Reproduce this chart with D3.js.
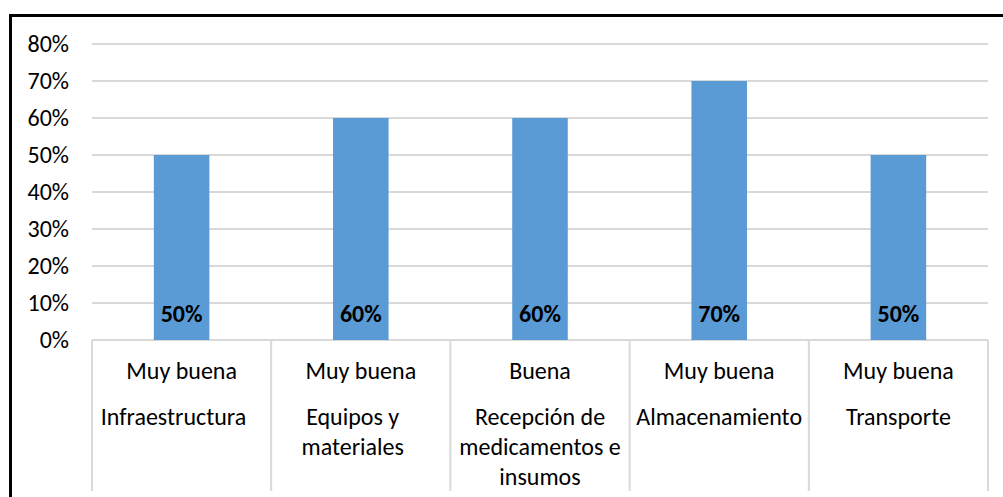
<!DOCTYPE html>
<html><head><meta charset="utf-8">
<script src="https://cdn.jsdelivr.net/npm/d3@7"></script>
<style>body{margin:0;background:#fff}svg{display:block}text{white-space:pre}</style>
</head><body>
<svg id="c" width="1003" height="497"></svg>
<script>
const categories = [["Infraestructura   "],["Equipos y   ","materiales   "],["Recepción de","medicamentos e","insumos"],["Almacenamiento"],["Transporte"]];
const ratings = ["Muy buena","Muy buena","Buena","Muy buena","Muy buena"];
const values = [0.5,0.6,0.6,0.7,0.5];
const yTicks = [0,0.1,0.2,0.3,0.4,0.5,0.6,0.7,0.8];

const svg = d3.select("#c");
const font = "Calibri, Carlito, 'Liberation Sans', Arial, sans-serif";
const fs = 24;
svg.append("rect").attr("x",10.5).attr("y",15.5).attr("width",1010).attr("height",510)
  .attr("fill","none").attr("stroke","#000").attr("stroke-width",3);

const L=92,R=988,T=44,B=340;
const x = d3.scaleBand().domain(d3.range(values.length)).range([L,R]).paddingInner(0).paddingOuter(0);
const y = d3.scaleLinear().domain([0,0.8]).range([B,T]);

svg.append("g").selectAll("line").data(yTicks).join("line")
  .attr("x1",L).attr("x2",R).attr("y1",d=>y(d)).attr("y2",d=>y(d))
  .attr("stroke","#d9d9d9").attr("stroke-width",2);

svg.append("g").selectAll("text").data(yTicks).join("text")
  .attr("x",69).attr("y",d=>y(d)).attr("dy","0.35em").attr("text-anchor","end")
  .attr("font-family",font).attr("font-size",fs).attr("fill","#000")
  .text(d3.format(".0%"));

const bw = x.bandwidth()*0.31;
svg.append("g").selectAll("rect").data(values).join("rect")
  .attr("x",(d,i)=>x(i)+x.bandwidth()/2-bw/2).attr("width",bw)
  .attr("y",d=>y(d)).attr("height",d=>B-y(d)).attr("fill","#5b9bd5");

svg.append("g").selectAll("text").data(values).join("text")
  .attr("x",(d,i)=>x(i)+x.bandwidth()/2).attr("y",314).attr("dy","0.35em")
  .attr("text-anchor","middle").attr("font-family",font).attr("font-weight","bold")
  .attr("font-size",fs).attr("fill","#000").text(d3.format(".0%"));

// category dividers
svg.append("g").selectAll("line").data(d3.range(values.length+1)).join("line")
  .attr("x1",i=>i<values.length?x(i):R).attr("x2",i=>i<values.length?x(i):R)
  .attr("y1",B).attr("y2",491).attr("stroke","#d9d9d9").attr("stroke-width",2);

svg.append("g").selectAll("text").data(ratings).join("text")
  .attr("x",(d,i)=>x(i)+x.bandwidth()/2).attr("y",371).attr("dy","0.35em")
  .attr("text-anchor","middle").attr("font-family",font).attr("font-size",fs).attr("fill","#000").text(d=>d);

const cg = svg.append("g").selectAll("text").data(categories).join("text")
  .attr("x",(d,i)=>x(i)+x.bandwidth()/2).attr("y",417)
  .attr("text-anchor","middle").attr("font-family",font).attr("font-size",fs).attr("fill","#000");
cg.selectAll("tspan").data(d=>d).join("tspan")
  .attr("x",function(){return this.parentNode.getAttribute("x");})
  .attr("dy",(d,j)=>j===0?"0.35em":"30px").text(d=>d);
</script>
</body></html>
